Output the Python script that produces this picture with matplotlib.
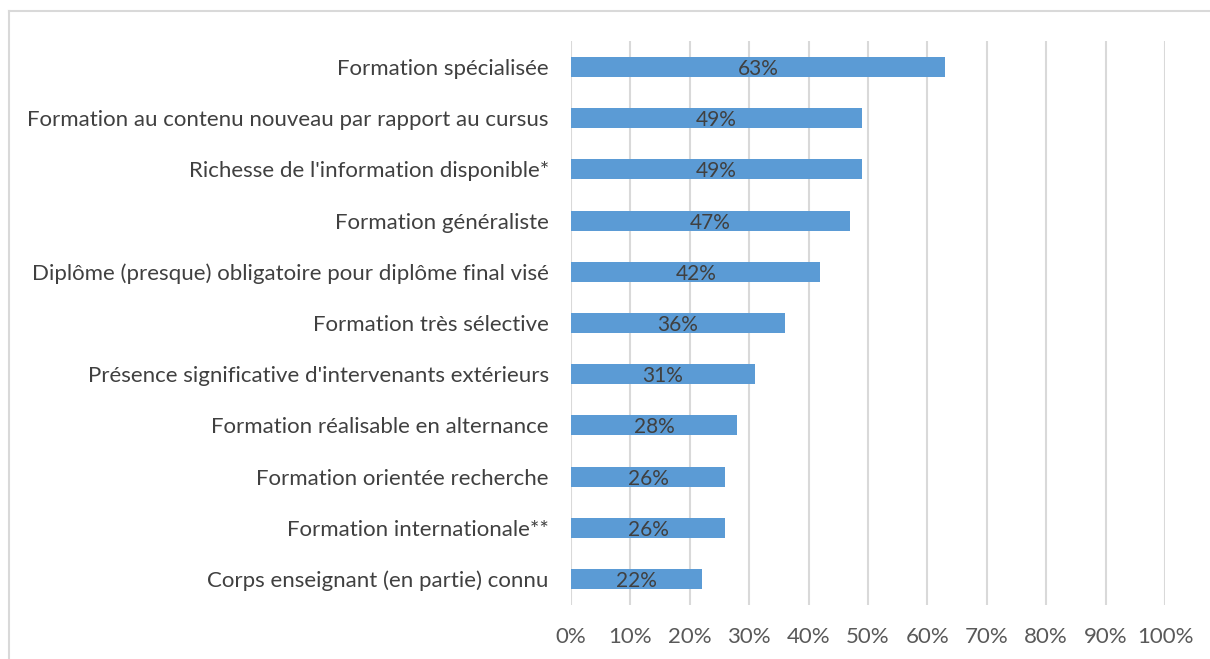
import matplotlib.pyplot as plt
from matplotlib.lines import Line2D

categories = [
    "Formation spécialisée",
    "Formation au contenu nouveau par rapport au cursus",
    "Richesse de l'information disponible*",
    "Formation généraliste",
    "Diplôme (presque) obligatoire pour diplôme final visé",
    "Formation très sélective",
    "Présence significative d'intervenants extérieurs",
    "Formation réalisable en alternance",
    "Formation orientée recherche",
    "Formation internationale**",
    "Corps enseignant (en partie) connu",
]
values = [0.63, 0.49, 0.49, 0.47, 0.42, 0.36, 0.31, 0.28, 0.26, 0.26, 0.22]
xticks = [i / 10 for i in range(11)]
xticklabels = ["%d%%" % (i * 10) for i in range(11)]

plt.rcParams['font.family'] = ['Lato', 'DejaVu Sans']

fig = plt.figure(figsize=(12.1, 6.59), dpi=100)
ax = fig.add_axes([0.4719, 0.0826, 0.4909, 0.8546])

ypos = list(range(len(categories)))
ax.barh(ypos, values, height=0.39, color='#5B9BD5', zorder=3)
for y, v in zip(ypos, values):
    ax.text(v / 2, y + 0.04, "%d%%" % round(v * 100), ha='center', va='center',
            fontsize=15, color='#404040', zorder=4)

ax.set_xlim(0, 1)
ax.set_ylim(len(categories) - 0.5, -0.5)
ax.set_yticks(ypos)
ax.set_yticklabels(categories, fontsize=16, color='#404040')
ax.set_xticks(xticks)
ax.set_xticklabels(xticklabels, fontsize=16, color='#595959')
ax.tick_params(axis='both', length=0)
ax.tick_params(axis='x', pad=16)
ax.tick_params(axis='y', pad=16)
ax.grid(axis='x', color='#D9D9D9', linewidth=1.5, zorder=0)
for s in ax.spines.values():
    s.set_visible(False)

# chart border (only top and left visible in the source crop)
fig.add_artist(Line2D([8.5 / 1210, 8.5 / 1210], [0, 1 - 11 / 659], color='#D9D9D9', linewidth=1.5))
fig.add_artist(Line2D([8.5 / 1210, 1], [1 - 11 / 659, 1 - 11 / 659], color='#D9D9D9', linewidth=1.5))

fig.savefig('out.png', dpi=100)
